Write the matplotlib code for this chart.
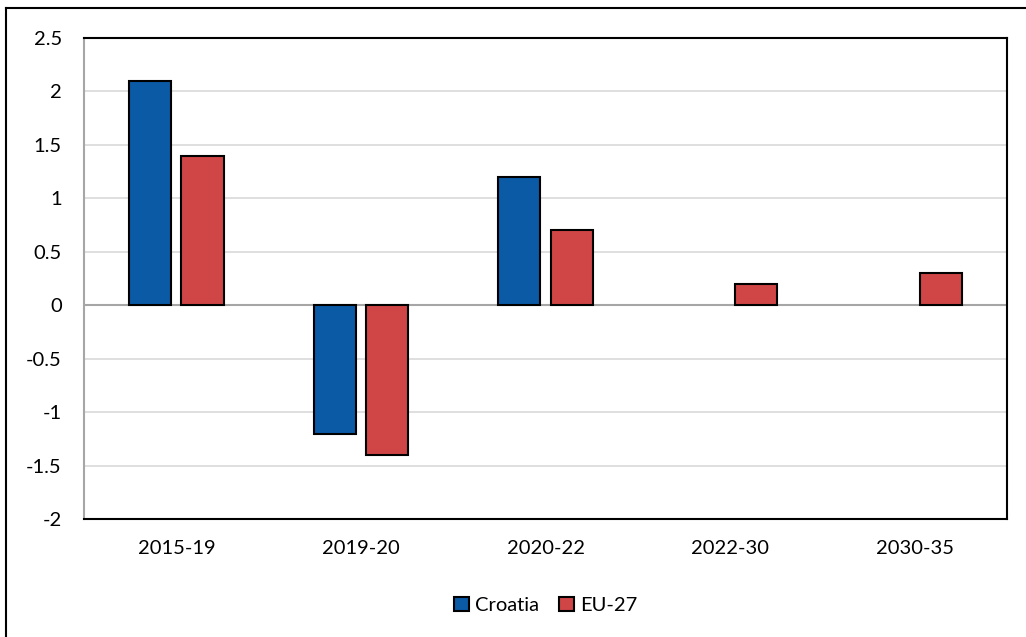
import numpy as np
import matplotlib.pyplot as plt
from matplotlib.lines import Line2D

plt.rcParams['font.family'] = ['Lato', 'DejaVu Sans']

periodos = ['2015-19', '2019-20', '2020-22', '2022-30', '2030-35']
croatia = [2.1, -1.2, 1.2, 0, 0]
eu27 = [1.4, -1.4, 0.7, 0.2, 0.3]
yticks = [-2, -1.5, -1, -0.5, 0, 0.5, 1, 1.5, 2, 2.5]
ylabels = ['-2', '-1.5', '-1', '-0.5', '0', '0.5', '1', '1.5', '2', '2.5']

azul = '#0B5AA6'
rojo = '#D04545'

fig = plt.figure(figsize=(10.26, 6.37), dpi=100)
ax = fig.add_axes([0.0819, 0.1852, 0.8996, 0.7551])

x = np.arange(len(periodos))
ancho = 0.228
desp = 0.142

# Croatia has no bars for the projection periods
xc = [xi for xi, v in zip(x, croatia) if v != 0]
vc = [v for v in croatia if v != 0]
ax.bar(np.array(xc) - desp, vc, ancho, color=azul, edgecolor='black', linewidth=1.5, label='Croatia', zorder=3)
ax.bar(x + desp, eu27, ancho, color=rojo, edgecolor='black', linewidth=1.5, label='EU-27', zorder=3)

ax.set_xlim(-0.5, len(periodos) - 0.5)
ax.set_ylim(-2, 2.5)
ax.set_yticks(yticks)
ax.set_yticklabels(ylabels)
ax.set_xticks(x)
ax.set_xticklabels(periodos)
ax.tick_params(length=0, labelsize=14.5)
ax.tick_params(axis='x', pad=15)
ax.tick_params(axis='y', pad=16)

ax.yaxis.grid(True, color='#d9d9d9', linewidth=1.2, zorder=0)
ax.axhline(0, color='#a6a6a6', linewidth=1.5, zorder=2)

for s in ['top', 'right', 'bottom']:
    ax.spines[s].set_color('black')
    ax.spines[s].set_linewidth(1.5)
ax.spines['left'].set_color('#a6a6a6')
ax.spines['left'].set_linewidth(1.5)

ax.legend(loc='lower center', bbox_to_anchor=(0.5, -0.235), ncol=2, frameon=False,
          fontsize=14.5, handlelength=0.75, handleheight=0.75, handletextpad=0.3,
          columnspacing=1.0)

# marco exterior
fig.add_artist(Line2D([6 / 1026, 6 / 1026], [0, 1 - 8 / 637], transform=fig.transFigure,
                      color='black', linewidth=1.5))
fig.add_artist(Line2D([6 / 1026, 1], [1 - 8 / 637, 1 - 8 / 637], transform=fig.transFigure,
                      color='black', linewidth=1.5))

fig.savefig('out.png', dpi=100)
